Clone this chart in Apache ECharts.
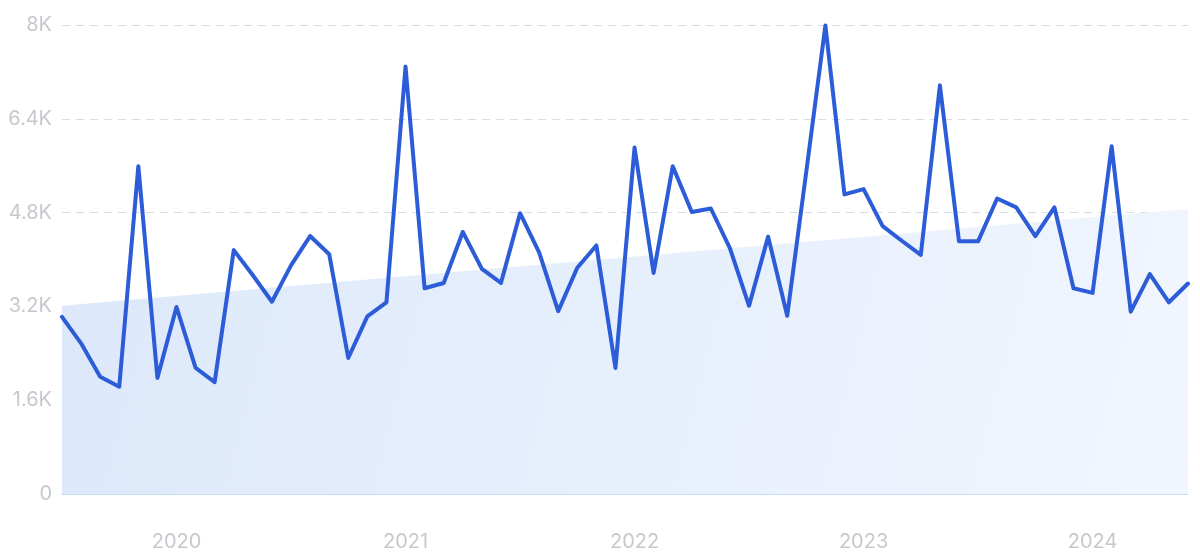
<!DOCTYPE html>
<html>
<head>
<meta charset="utf-8">
<script src="https://cdn.jsdelivr.net/npm/echarts@6/dist/echarts.min.js"></script>
<style>
html,body{margin:0;padding:0;background:#fff;}
#chart{width:1200px;height:556px;}
</style>
</head>
<body>
<div id="chart"></div>
<script>
// Monthly categories Jul 2019 .. Jun 2024
const months = [
 '2019-07','2019-08','2019-09','2019-10','2019-11','2019-12',
 '2020-01','2020-02','2020-03','2020-04','2020-05','2020-06','2020-07','2020-08','2020-09','2020-10','2020-11','2020-12',
 '2021-01','2021-02','2021-03','2021-04','2021-05','2021-06','2021-07','2021-08','2021-09','2021-10','2021-11','2021-12',
 '2022-01','2022-02','2022-03','2022-04','2022-05','2022-06','2022-07','2022-08','2022-09','2022-10','2022-11','2022-12',
 '2023-01','2023-02','2023-03','2023-04','2023-05','2023-06','2023-07','2023-08','2023-09','2023-10','2023-11','2023-12',
 '2024-01','2024-02','2024-03','2024-04','2024-05','2024-06'
];
const values = [
 3020,2570,2000,1830,5590,1980,
 3190,2150,1910,4160,3730,3280,3900,4400,4090,2320,3030,3270,
 7290,3510,3600,4470,3840,3600,4790,4120,3120,3860,4240,2150,
 5910,3770,5590,4810,4870,4190,3210,4390,3040,5500,7990,5110,
 5200,4570,4320,4080,6970,4310,4310,5040,4890,4400,4890,3510,
 3430,5930,3110,3750,3270,3590
];
// Trend line end points
const trendStart = 3210;
const trendEnd = 4860;
const yTicks = [0, 1600, 3200, 4800, 6400, 8000];

const trendData = months.map((m, i) => i === 0 ? trendStart : (i === months.length - 1 ? trendEnd : null));

const chart = echarts.init(document.getElementById('chart'), null, {renderer: 'canvas'});
const labelFont = 'Inter, Roboto, "Noto Sans", sans-serif';
chart.setOption({
  animation: false,
  grid: {left: 62, right: 12, top: 25, bottom: 62},
  xAxis: {
    type: 'category',
    data: months,
    boundaryGap: false,
    axisLine: {show: true, lineStyle: {color: '#c9dbf3', width: 1}},
    axisTick: {show: false},
    splitLine: {show: false},
    axisLabel: {
      interval: (idx, val) => val.endsWith('-01'),
      formatter: v => v.slice(0, 4),
      color: '#c6c8cd',
      fontSize: 20,
      fontFamily: labelFont,
      margin: 38
    }
  },
  yAxis: {
    type: 'value',
    min: yTicks[0],
    max: yTicks[yTicks.length - 1],
    interval: 1600,
    axisLine: {show: false},
    axisTick: {show: false},
    splitLine: {show: true, lineStyle: {color: '#d6deec', type: [8, 6], width: 1}},
    axisLabel: {
      formatter: v => v === 0 ? '0' : (v / 1000) + 'K',
      color: '#c6c8cd',
      fontSize: 20,
      fontFamily: labelFont,
      margin: 10
    }
  },
  series: [
    {
      type: 'line',
      data: trendData,
      connectNulls: true,
      symbol: 'none',
      lineStyle: {width: 0, opacity: 0},
      areaStyle: {
        color: new echarts.graphic.LinearGradient(0, 0, 1, 1, [
          {offset: 0, color: '#dce8fa'},
          {offset: 1, color: '#f1f6fe'}
        ]),
        opacity: 1
      },
      silent: true,
      z: 1
    },
    {
      type: 'line',
      data: values,
      symbol: 'none',
      lineStyle: {color: '#2c5cd8', width: 4, join: 'round', cap: 'round'},
      z: 3
    }
  ]
});
</script>
</body>
</html>
